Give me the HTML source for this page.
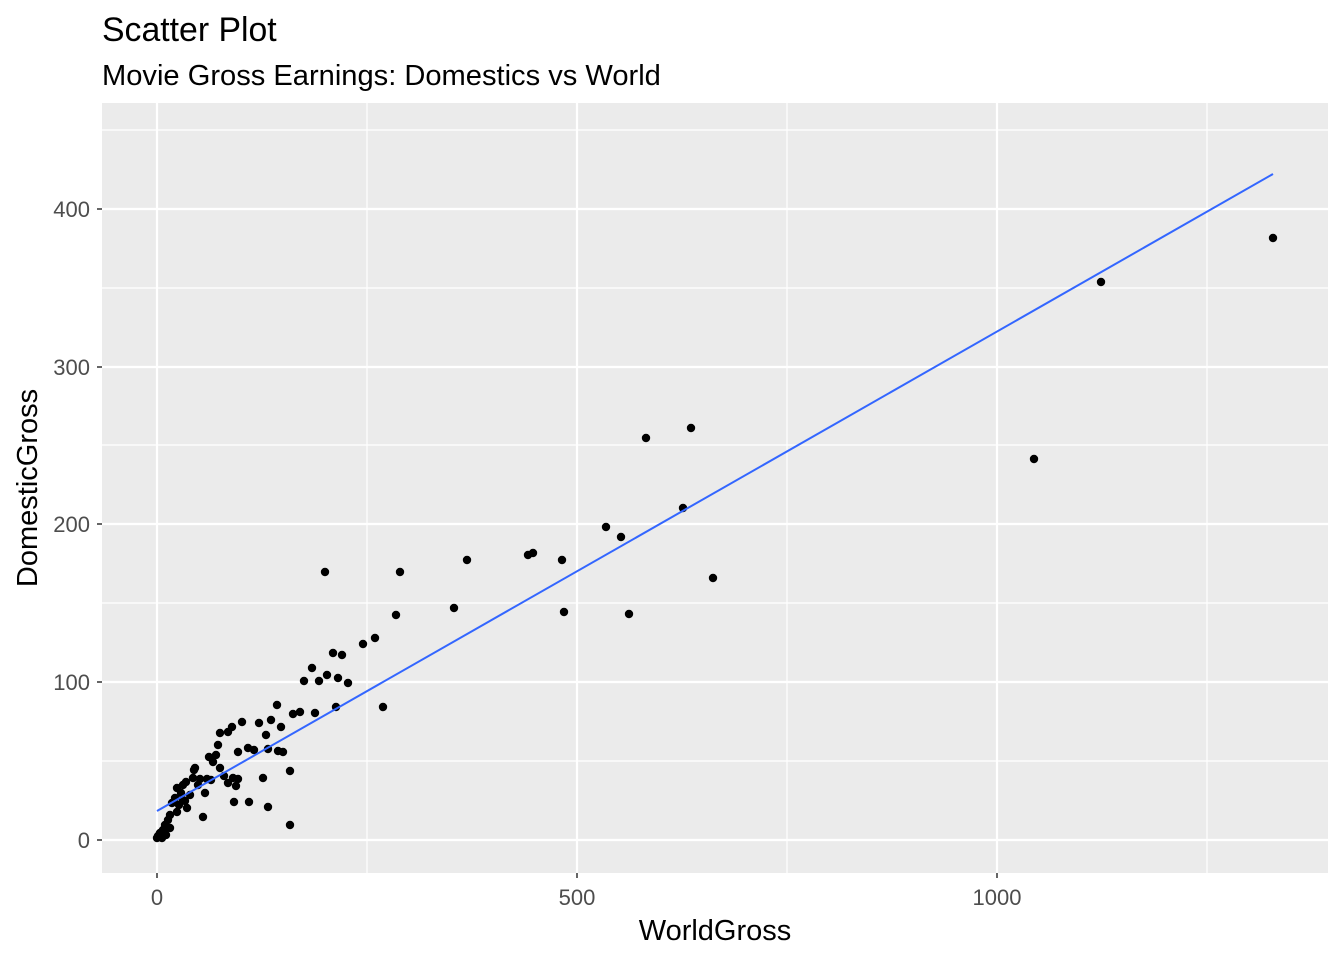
<!DOCTYPE html>
<html><head><style>body{margin:0;background:#fff}</style></head><body>
<svg width="1344" height="960" xmlns="http://www.w3.org/2000/svg" font-family="Liberation Sans, Arial, sans-serif">
<rect width="1344" height="960" fill="#fff"/>
<text x="102" y="41" font-size="33.8" fill="#000">Scatter Plot</text>
<text x="102" y="85" font-size="29.1" fill="#000">Movie Gross Earnings: Domestics vs World</text>
<rect x="102" y="103" width="1226" height="770" fill="#ebebeb"/>
<g stroke="#fff" stroke-width="1.2">
<line x1="102" x2="1328" y1="761" y2="761"/><line x1="102" x2="1328" y1="603" y2="603"/><line x1="102" x2="1328" y1="445" y2="445"/><line x1="102" x2="1328" y1="288" y2="288"/><line x1="102" x2="1328" y1="130" y2="130"/>
<line y1="103" y2="873" x1="367" x2="367"/><line y1="103" y2="873" x1="787" x2="787"/><line y1="103" y2="873" x1="1207" x2="1207"/>
</g>
<g stroke="#fff" stroke-width="2.2">
<line x1="102" x2="1328" y1="840" y2="840"/><line x1="102" x2="1328" y1="682" y2="682"/><line x1="102" x2="1328" y1="524" y2="524"/><line x1="102" x2="1328" y1="367" y2="367"/><line x1="102" x2="1328" y1="209" y2="209"/>
<line y1="103" y2="873" x1="157" x2="157"/><line y1="103" y2="873" x1="577" x2="577"/><line y1="103" y2="873" x1="997" x2="997"/>
</g>
<g id="pts" fill="#000"></g>
<line x1="157" y1="811" x2="1273" y2="174" stroke="#3366ff" stroke-width="2"/>
<g stroke="#333" stroke-width="1.5">
<line x1="97" x2="102" y1="840" y2="840"/><line x1="97" x2="102" y1="682" y2="682"/><line x1="97" x2="102" y1="524" y2="524"/><line x1="97" x2="102" y1="367" y2="367"/><line x1="97" x2="102" y1="209" y2="209"/>
<line y1="873" y2="878" x1="157" x2="157"/><line y1="873" y2="878" x1="577" x2="577"/><line y1="873" y2="878" x1="997" x2="997"/>
</g>
<g font-size="22" fill="#4d4d4d" text-anchor="end">
<text x="90" y="848">0</text><text x="90" y="690">100</text><text x="90" y="532">200</text><text x="90" y="375">300</text><text x="90" y="217">400</text>
</g>
<g font-size="22" fill="#4d4d4d" text-anchor="middle">
<text x="157" y="905">0</text><text x="577" y="905">500</text><text x="997" y="905">1000</text>
</g>
<text x="715" y="940" font-size="29" text-anchor="middle" fill="#000">WorldGross</text>
<text transform="translate(37,488) rotate(-90)" font-size="29" text-anchor="middle" fill="#000">DomesticGross</text>
</svg>
<script>
var p=[[1273,238],[1101,282],[1034,459],[691,428],[646,438],[683,508],[713,578],[606,527],[621,537],[629,614],[564,612],[562,560],[533,553],[528,555],[467,560],[454,608],[400,572],[396,615],[383,707],[375,638],[363,644],[325,572],[348,683],[342,655],[338,678],[333,653],[336,707],[327,675],[319,681],[312,668],[304,681],[315,713],[300,712],[293,714],[277,705],[290,771],[290,825],[283,752],[281,727],[278,751],[271,720],[268,749],[266,735],[263,778],[268,807],[259,723],[254,750],[248,748],[249,802],[242,722],[238,752],[232,727],[228,732],[238,779],[236,786],[233,778],[228,783],[224,776],[234,802],[220,768],[218,745],[220,733],[216,755],[213,762],[211,780],[209,757],[207,779],[205,793],[203,817],[200,779],[198,785],[194,770],[190,795],[186,782],[183,785],[185,801],[181,793],[179,805],[177,788],[175,798],[172,803],[170,815],[168,820],[165,825],[163,830],[160,833],[158,836],[157,838],[162,838],[166,835],[170,828],[177,812],[183,800],[187,808],[193,778],[195,768]];
var g=document.getElementById('pts'),s='';
p.forEach(function(a){s+='<circle cx="'+a[0]+'" cy="'+a[1]+'" r="4.2"/>';});
g.innerHTML=s;
</script>
</body></html>
